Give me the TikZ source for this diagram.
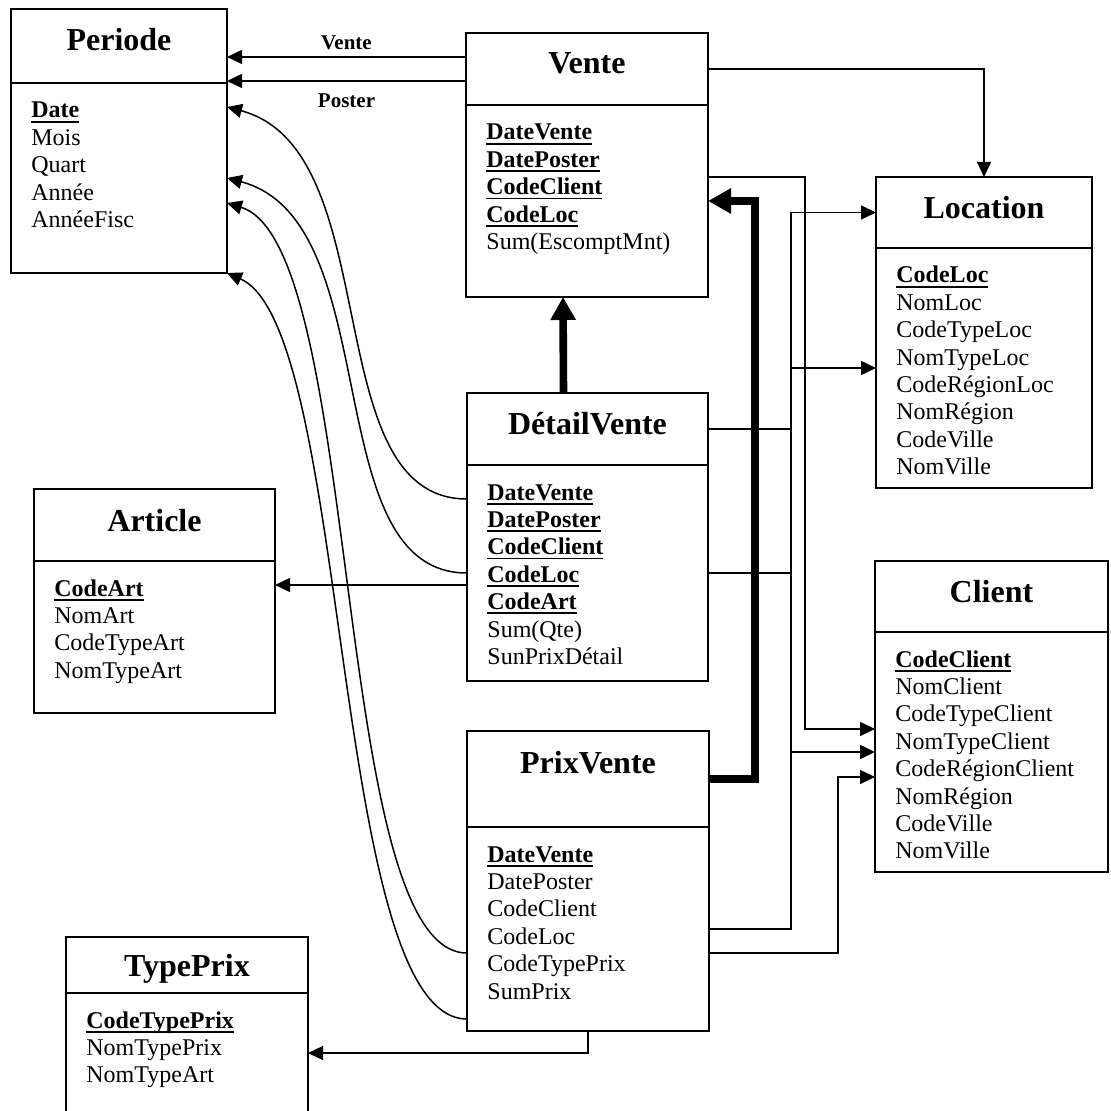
\documentclass[tikz,border=0pt]{standalone}
\usepackage{fontspec}
\setmainfont{Liberation Serif}
\usetikzlibrary{calc,positioning,arrows.meta}
\tikzstyle{enthead}=[draw,line width=1pt,outer sep=0pt,inner sep=0pt,anchor=north west,text height=11pt,text depth=5pt,font=\fontsize{16}{18}\selectfont\bfseries]
\tikzstyle{entbody}=[draw,line width=1pt,outer sep=0pt,inner sep=0pt]
\tikzstyle{field}=[anchor=base west,inner sep=0pt,font=\fontsize{12}{14}\selectfont]
\tikzstyle{fk}=[line width=0.75pt,-{Triangle[length=7.5pt,width=7pt]}]
\tikzstyle{fkbold}=[line width=3.8pt,line join=miter,-{Triangle[length=11.5pt,width=12pt]}]
\tikzstyle{rolelabel}=[font=\fontsize{10.5}{12}\selectfont\bfseries,inner sep=0pt]
\newsavebox{\pkbox}
\newcommand{\pk}[1]{\sbox{\pkbox}{\textbf{#1}}\rlap{\rule[-2.3pt]{\wd\pkbox}{0.9pt}}\usebox{\pkbox}}
\newcommand{\entity}[9][]{
	\node[enthead,minimum width=#5*0.5pt,minimum height=#6*0.5pt,#1] (#2t) at (#3,#4) {#8};
	\node[entbody,minimum width=#5*0.5pt,minimum height=#7*0.5pt,below=0pt of #2t] (#2b) {};
	\foreach \f [count=\i from 0] in {#9}{
		\node[field] (#2f\i) at ($(#2b.north west)+(20,35+27.4*\i)$) {\f};
	}
}

\begin{document}
\begin{tikzpicture}[x=0.5pt,y=-0.5pt]
\useasboundingbox (0,0) rectangle (1110,1111);
\clip (0,0) rectangle (1110,1111);

% tables
\entity[text depth=6pt]{per}{11}{9}{216}{74}{190}{Periode}{\pk{Date},Mois,Quart,Année,AnnéeFisc}
\entity[text depth=6pt]{v}{466}{33}{242}{72}{192}{Vente}{\pk{DateVente},\pk{DatePoster},\pk{CodeClient},\pk{CodeLoc},Sum(EscomptMnt)}
\entity{loc}{876}{177}{216}{71}{240}{Location}{\pk{CodeLoc},NomLoc,CodeTypeLoc,NomTypeLoc,CodeRégionLoc,NomRégion,CodeVille,NomVille}
\entity{dv}{467}{393}{241}{72}{216}{DétailVente}{\pk{DateVente},\pk{DatePoster},\pk{CodeClient},\pk{CodeLoc},\pk{CodeArt},Sum(Qte),SunPrixDétail}
\entity{art}{34}{489}{241}{72}{152}{Article}{\pk{CodeArt},NomArt,CodeTypeArt,NomTypeArt}
\entity{cli}{875}{561}{233}{71}{240}{Client}{\pk{CodeClient},NomClient,CodeTypeClient,NomTypeClient,CodeRégionClient,NomRégion,CodeVille,NomVille}
\entity[text depth=17pt]{pv}{467}{731}{242}{96}{204}{PrixVente}{\pk{DateVente},DatePoster,CodeClient,CodeLoc,CodeTypePrix,SumPrix}
\entity[text depth=0pt]{tp}{66}{937}{242}{56}{200}{TypePrix}{\pk{CodeTypePrix},NomTypePrix,NomTypeArt}

% columns of the right hand links
\coordinate (busloc) at (791,0);
\coordinate (busvc) at (805,0);
\coordinate (buspc) at (838,0);
\coordinate (busbold) at (755,0);

% Vente -> Periode
\draw[fk] (vt.west |- 0,57) -- (pert.east |- 0,57) node[rolelabel,midway,above=3pt] (lvente) {Vente};
\draw[fk] (vt.west |- 0,81) -- (pert.east |- 0,81) node[rolelabel,midway,below=6pt] (lposter) {Poster};

% dates -> Periode
\draw[fk] (dvb.west |- 0,499) .. controls +(-152,0) and +(162,43) .. (perb.east |- 0,107);
\draw[fk] (dvb.west) .. controls +(-152,0) and +(162,43) .. (perb.east);
\draw[fk] (pvb.west |- 0,953) .. controls +(-137,0) and +(137,42) .. (perb.east |- 0,203);
\draw[fk] (pvb.west |- 0,1019) .. controls +(-137,0) and +(125,55) .. (perb.south east);

% Location, Client
\draw[fk] (vt.east) -| (loct.north);
\draw[fk] (vb.east |- 0,177) -| (busvc |- 0,729) -- (clib.west |- 0,729);
\draw[fk] (dvt.east) -| (busloc |- loct.west) -- (loct.west);
\draw[fk] (dvb.east) -| (busloc |- clib.west) -- (clib.west);
\draw[fk] (pvb.east) -| (busloc |- locb.west) -- (locb.west);
\draw[fk] (pvb.east |- 0,953) -| (buspc |- 0,777) -- (clib.west |- 0,777);

% Article, TypePrix
\draw[fk] (dvb.west |- 0,585) -- (artb.east |- 0,585);
\draw[fk] (pvb.south) |- (tpb.east |- 0,1053);

% detail -> Vente
\draw[fkbold] ($(dvt.north)+(-24,0)$) -- ($(vb.south)+(-24,0)$);
\draw[fkbold] (pvt.east) -| (busbold |- vb.east) -- (vb.east);
\end{tikzpicture}
\end{document}
